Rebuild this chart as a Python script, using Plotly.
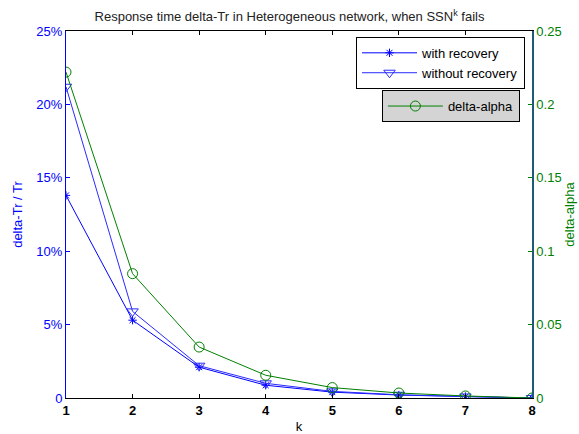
import plotly.graph_objects as go

k = [1, 2, 3, 4, 5, 6, 7, 8]
with_recovery = [0.138, 0.053, 0.021, 0.0087, 0.004, 0.002, 0.001, 0.0]
without_recovery = [0.212, 0.059, 0.022, 0.010, 0.0045, 0.0022, 0.001, 0.0]
delta_alpha = [0.222, 0.0847, 0.0347, 0.0155, 0.0071, 0.0034, 0.0014, 0.0]

left_ticks = [0, 0.05, 0.10, 0.15, 0.20, 0.25]
left_labels = ["0", "5%", "10%", "15%", "20%", "25%"]
right_ticks = [0, 0.05, 0.10, 0.15, 0.20, 0.25]
right_labels = ["0", "0.05", "0.1", "0.15", "0.2", "0.25"]

font = "Liberation Sans, Arial, sans-serif"
blue = "#0000ff"
blue2 = "#2a2aff"
green = "#008000"
fs = 13

fig = go.Figure()
fig.add_trace(go.Scatter(x=k, y=with_recovery, name="with recovery", mode="lines+markers",
                         line=dict(color=blue, width=1),
                         marker=dict(symbol="asterisk-open", size=7, color=blue, line=dict(width=1, color=blue)),
                         legend="legend"))
fig.add_trace(go.Scatter(x=k, y=without_recovery, name="without recovery", mode="lines+markers",
                         line=dict(color=blue2, width=1),
                         marker=dict(symbol="triangle-down-open", size=10, color=blue2, line=dict(width=1, color=blue2)),
                         legend="legend"))
fig.add_trace(go.Scatter(x=k, y=delta_alpha, name="delta-alpha", mode="lines+markers",
                         line=dict(color=green, width=1),
                         marker=dict(symbol="circle-open", size=10, color=green, line=dict(width=1, color=green)),
                         yaxis="y2", legend="legend2"))

fig.update_layout(
    width=579, height=434,
    margin=dict(l=66, r=47, t=31, b=36),
    paper_bgcolor="white", plot_bgcolor="white",
    font=dict(family=font, size=fs, color="black"),
    title=dict(text="Response time delta-Tr in Heterogeneous network, when SSN<sup>k</sup> fails",
               x=0.5, xanchor="center", y=0.962, yanchor="middle",
               font=dict(size=fs, family=font, color="#222")),
    xaxis=dict(range=[1, 8], tickvals=k, ticks="inside", ticklen=4, tickcolor="black",
               showline=True, linecolor="black", linewidth=1, mirror="ticks",
               showgrid=False, zeroline=False, automargin=False,
               tickfont=dict(size=fs, color="black", weight="bold"),
               title=dict(text="k", font=dict(size=fs), standoff=6)),
    yaxis=dict(range=[0, 0.25], tickvals=left_ticks, ticktext=left_labels,
               ticks="inside", ticklen=4, tickcolor=blue, showline=True, linecolor=blue, linewidth=1,
               showgrid=False, zeroline=False, automargin=False, tickfont=dict(size=fs, color=blue),
               title=dict(text="delta-Tr / Tr", font=dict(size=fs, color=blue), standoff=10)),
    yaxis2=dict(range=[0, 0.25], tickvals=right_ticks, ticktext=right_labels, overlaying="y", side="right",
                ticks="inside", ticklen=4, tickcolor=green, showline=True, linecolor="#1f5a78", linewidth=1.5,
                showgrid=False, zeroline=False, automargin=False, tickfont=dict(size=fs, color=green),
                title=dict(text="delta-alpha", font=dict(size=fs, color=green), standoff=2)),
    legend=dict(x=0.985, y=0.984, xanchor="right", yanchor="top",
                bgcolor="white", bordercolor="black", borderwidth=1,
                font=dict(size=fs, color="black"), tracegroupgap=0, itemwidth=55),
    legend2=dict(x=0.974, y=0.839, xanchor="right", yanchor="top",
                 bgcolor="#d4d4d4", bordercolor="black", borderwidth=1,
                 font=dict(size=fs, color="black"), itemwidth=55),
)

fig.write_html("out.html", config={"displayModeBar": False},
               post_script="document.body.style.margin='0';document.body.style.overflow='hidden';")
